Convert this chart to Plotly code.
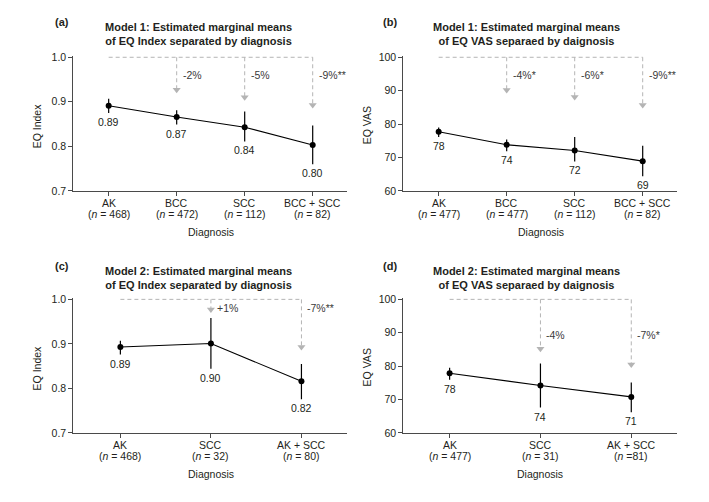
import plotly.graph_objects as go

# ---------------- data ----------------
# Panel (a): Model 1, EQ Index
cats_a = ["AK", "BCC", "SCC", "BCC + SCC"]
n_a = ["(<i>n</i> = 468)", "(<i>n</i> = 472)", "(<i>n</i> = 112)", "(<i>n</i> = 82)"]
mean_a = [0.891, 0.866, 0.843, 0.803]
upper_a = [0.907, 0.881, 0.878, 0.847]
lower_a = [0.875, 0.849, 0.811, 0.760]
vlab_a = ["0.89", "0.87", "0.84", "0.80"]
pct_a = ["-2%", "-5%", "-9%**"]
arrow_a = [0.927, 0.910, 0.893]

# Panel (b): Model 1, EQ VAS
cats_b = ["AK", "BCC", "SCC", "BCC + SCC"]
n_b = ["(<i>n</i> = 477)", "(<i>n</i> = 477)", "(<i>n</i> = 112)", "(<i>n</i> = 82)"]
mean_b = [77.7, 73.8, 72.1, 68.9]
upper_b = [79.0, 75.4, 76.1, 73.5]
lower_b = [76.1, 71.9, 68.8, 64.4]
vlab_b = ["78", "74", "72", "69"]
pct_b = ["-4%*", "-6%*", "-9%**"]
arrow_b = [90.2, 88.1, 85.7]

# Panel (c): Model 2, EQ Index
cats_c = ["AK", "SCC", "AK + SCC"]
n_c = ["(<i>n</i> = 468)", "(<i>n</i> = 32)", "(<i>n</i> = 80)"]
mean_c = [0.893, 0.901, 0.816]
upper_c = [0.907, 0.958, 0.855]
lower_c = [0.876, 0.844, 0.776]
vlab_c = ["0.89", "0.90", "0.82"]
pct_c = ["+1%", "-7%**"]
arrow_c = [0.977, 0.893]

# Panel (d): Model 2, EQ VAS
cats_d = ["AK", "SCC", "AK + SCC"]
n_d = ["(<i>n</i> = 477)", "(<i>n</i> = 31)", "(<i>n</i> =81)"]
mean_d = [77.9, 74.2, 70.8]
upper_d = [79.5, 80.8, 75.1]
lower_d = [75.9, 67.6, 66.2]
vlab_d = ["78", "74", "71"]
pct_d = ["-4%", "-7%*"]
arrow_d = [85.2, 80.5]

titles = {
    "a": ("Model 1: Estimated marginal means", "of EQ Index separated by diagnosis"),
    "b": ("Model 1: Estimated marginal means", "of EQ VAS separaed by daignosis"),
    "c": ("Model 2: Estimated marginal means", "of EQ Index separated by diagnosis"),
    "d": ("Model 2: Estimated marginal means", "of EQ VAS separaed by daignosis"),
}

# ---------------- layout helpers ----------------
# The page body has the browser's default 8px margin, so the figure is
# drawn 8px in from the window's top-left corner.
OFF = 8
W, H = 709 - 2 * OFF, 502 - 2 * OFF
FONT = "Liberation Sans, Arial, Helvetica, sans-serif"
TXT = "#231f20"
AXC = "#4a4a4a"
DASH = "#b4b4b4"

fig = go.Figure()
annotations = []


def px_x(p):
    return (p - OFF) / W


def px_y(p):
    return 1 - (p - OFF) / H


def panel(idx, letter, cats, ns, mean, upper, lower, vlab, pct, arrow,
          ylo, yhi, ydtick, yfmt, ytitle, xl, xr, yt, yb, pct_y, xleft,
          tcx, ty, lab_x, lab_y):
    xa = "x" if idx == 1 else f"x{idx}"
    ya = "y" if idx == 1 else f"y{idx}"
    xs = list(range(len(cats)))
    pad = 0.012 * (yhi - ylo)
    ytop_px = yt - 0.012 * (yb - yt)
    fig.add_trace(go.Scatter(
        x=xs, y=mean, mode="lines+markers", xaxis=xa, yaxis=ya,
        line=dict(color="black", width=1.1),
        marker=dict(color="black", size=6),
        error_y=dict(type="data", symmetric=False,
                     array=[u - m for u, m in zip(upper, mean)],
                     arrayminus=[m - l for m, l in zip(mean, lower)],
                     color="black", thickness=1.2, width=0),
        showlegend=False, hoverinfo="skip"))
    fig.add_trace(go.Scatter(
        x=[xs[0], xs[-1]], y=[yhi, yhi], mode="lines", xaxis=xa, yaxis=ya,
        line=dict(color=DASH, width=1, dash="4px,3px"),
        showlegend=False, hoverinfo="skip"))
    for k, xv in enumerate(xs[1:]):
        fig.add_trace(go.Scatter(
            x=[xv, xv], y=[yhi, arrow[k]], mode="lines", xaxis=xa, yaxis=ya,
            line=dict(color=DASH, width=1, dash="4px,3px"),
            showlegend=False, hoverinfo="skip"))
        fig.add_trace(go.Scatter(
            x=[xv], y=[arrow[k]], mode="markers", xaxis=xa, yaxis=ya,
            marker=dict(symbol="triangle-down", size=7, color=DASH),
            showlegend=False, hoverinfo="skip"))
        annotations.append(dict(
            x=xv, y=pct_y, xref=xa, yref=ya, text=pct[k], showarrow=False,
            xanchor="left", yanchor="middle", xshift=4,
            font=dict(family=FONT, size=10.5, color="#3a3a3a")))
    for xv, lo, t in zip(xs, lower, vlab):
        annotations.append(dict(
            x=xv, y=lo, xref=xa, yref=ya, text=t, showarrow=False,
            xanchor="center", yanchor="top", yshift=-1,
            font=dict(family=FONT, size=10.5, color=TXT)))
    for xv, c, n in zip(xs, cats, ns):
        annotations.append(dict(
            x=xv, y=px_y(yb + 12), xref=xa, yref="paper", text=c,
            showarrow=False, xanchor="center", yanchor="middle",
            font=dict(family=FONT, size=10.5, color=TXT)))
        annotations.append(dict(
            x=xv, y=px_y(yb + 24), xref=xa, yref="paper", text=n,
            showarrow=False, xanchor="center", yanchor="middle",
            font=dict(family=FONT, size=10.5, color=TXT)))
    xkey = "xaxis" if idx == 1 else f"xaxis{idx}"
    ykey = "yaxis" if idx == 1 else f"yaxis{idx}"
    fig.layout[xkey] = dict(
        domain=[px_x(xl), px_x(xr)], anchor=ya,
        range=[xleft, len(cats) - 0.5], tickvals=xs, showticklabels=False,
        showline=True, linecolor=AXC, linewidth=1, ticks="outside",
        ticklen=4, tickcolor=AXC, showgrid=False, zeroline=False)
    yticks = []
    v = ylo
    while v <= yhi + 1e-9:
        yticks.append(round(v, 6))
        v += ydtick
    fig.layout[ykey] = dict(
        domain=[px_y(yb), px_y(ytop_px)], anchor=xa,
        range=[ylo, yhi + pad], tickvals=yticks,
        ticktext=[yfmt.format(t) for t in yticks],
        showline=True, linecolor=AXC, linewidth=1, ticks="outside",
        ticklen=4, tickcolor=AXC, showgrid=False, zeroline=False,
        tickfont=dict(family=FONT, size=10.5, color=TXT))
    annotations.append(dict(x=px_x(tcx), y=px_y(ty + 5.5), xref="paper", yref="paper",
                            text=f"<b>{titles[letter][0]}</b><br><b>{titles[letter][1]}</b>",
                            showarrow=False, align="center",
                            xanchor="center", yanchor="middle",
                            font=dict(family=FONT, size=11, color=TXT)))
    annotations.append(dict(x=px_x(lab_x), y=px_y(lab_y), xref="paper", yref="paper",
                            text=f"<b>({letter})</b>", showarrow=False,
                            xanchor="center", yanchor="middle",
                            font=dict(family=FONT, size=11, color=TXT)))
    annotations.append(dict(x=px_x(xl - 36.5), y=px_y((yt + yb) / 2 + 1.5),
                            xref="paper", yref="paper",
                            text=ytitle, showarrow=False, textangle=-90,
                            xanchor="center", yanchor="middle",
                            font=dict(family=FONT, size=10.5, color=TXT)))
    annotations.append(dict(x=(xs[0] + xs[-1]) / 2, y=px_y(yb + 42),
                            xref=xa, yref="paper",
                            text="Diagnosis", showarrow=False,
                            xanchor="center", yanchor="middle",
                            font=dict(family=FONT, size=10.5, color=TXT)))


panel(1, "a", cats_a, n_a, mean_a, upper_a, lower_a, vlab_a, pct_a, arrow_a,
      0.7, 1.0, 0.1, "{:.1f}", "EQ Index", 73.3, 346.7, 53.3, 190.0, 0.961, -0.52,
      198, 24, 61.7, 16.7)
panel(2, "b", cats_b, n_b, mean_b, upper_b, lower_b, vlab_b, pct_b, arrow_b,
      60, 100, 10, "{:.0f}", "EQ VAS", 403.3, 676.7, 53.3, 190.0, 94.8, -0.52,
      526, 24, 390, 16.7)
panel(3, "c", cats_c, n_c, mean_c, upper_c, lower_c, vlab_c, pct_c, arrow_c,
      0.7, 1.0, 0.1, "{:.1f}", "EQ Index", 73.3, 346.7, 301.0, 437.7, 0.980, -0.52,
      198, 273.3, 61.7, 266.7)
panel(4, "d", cats_d, n_d, mean_d, upper_d, lower_d, vlab_d, pct_d, arrow_d,
      60, 100, 10, "{:.0f}", "EQ VAS", 403.3, 676.7, 301.0, 437.7, 89.3, -0.51,
      526, 273.3, 390, 266.7)

fig.update_layout(
    width=W, height=H, margin=dict(l=0, r=0, t=0, b=0),
    paper_bgcolor="white", plot_bgcolor="white",
    font=dict(family=FONT, color=TXT),
    annotations=annotations, showlegend=False)

fig.write_html("out.html")
